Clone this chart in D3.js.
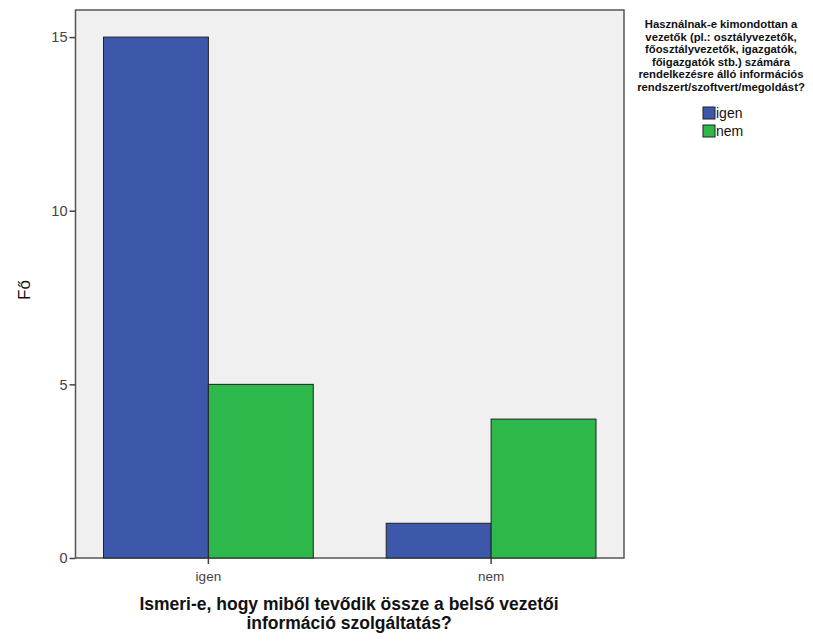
<!DOCTYPE html>
<html><head><meta charset="utf-8">
<script src="https://cdn.jsdelivr.net/npm/d3@7"></script>
<style>body{margin:0;background:#fff;} svg{display:block;font-family:Arial,"Liberation Sans",sans-serif;}</style>
</head><body>
<svg id="c" width="813" height="643"></svg>
<script>
const categories = ["igen", "nem"];
const seriesNames = ["igen", "nem"];
const seriesIgen = [15, 1];
const seriesNem = [5, 4];
const yTicks = [0, 5, 10, 15];
const legendTitle = ["Használnak-e kimondottan a", "vezetők (pl.: osztályvezetők,", "főosztályvezetők, igazgatók,", "főigazgatók stb.) számára", "rendelkezésre álló információs", "rendszert/szoftvert/megoldást?"];
const xTitle = ["Ismeri-e, hogy miből tevődik össze a belső vezetői", "információ szolgáltatás?"];
const yTitle = "Fő";
const colors = ["#3D57AB", "#2DB84B"];

const svg = d3.select("#c");
const L = 75.5, R = 624, T = 10, B = 558;
const x = d3.scaleBand().domain(categories).range([L, R]).paddingInner(0.258).paddingOuter(0.099);
const xs = d3.scaleBand().domain(seriesNames).range([0, x.bandwidth()]);
const y = d3.scaleLinear().domain([0, 15.78]).range([B, T]);

svg.append("rect").attr("x", L).attr("y", T).attr("width", R - L).attr("height", B - T)
  .attr("fill", "#F0F0F0").attr("stroke", "#555").attr("stroke-width", 1.5);

const data = categories.map((c, i) => ({cat: c, vals: [seriesIgen[i], seriesNem[i]]}));
const g = svg.append("g");
data.forEach(d => {
  d.vals.forEach((v, j) => {
    g.append("rect")
      .attr("x", x(d.cat) + xs(seriesNames[j]))
      .attr("y", y(v))
      .attr("width", xs.bandwidth())
      .attr("height", B - y(v))
      .attr("fill", colors[j]).attr("stroke", "#222").attr("stroke-width", 1);
  });
});

const yAxis = svg.append("g").attr("transform", `translate(${L},0)`)
  .call(d3.axisLeft(y).tickValues(yTicks).tickSize(6).tickSizeOuter(0).tickPadding(2));
yAxis.select(".domain").remove();
yAxis.selectAll("line").attr("stroke", "#444").attr("stroke-width", 1.5);
yAxis.selectAll("text").attr("font-size", 14.5).attr("fill", "#444").attr("font-family", "Arial,'Liberation Sans',sans-serif");

const xAxis = svg.append("g").attr("transform", `translate(0,${B})`)
  .call(d3.axisBottom(x).tickSize(6).tickSizeOuter(0).tickPadding(7));
xAxis.select(".domain").remove();
xAxis.selectAll("line").attr("stroke", "#444").attr("stroke-width", 1.5);
xAxis.selectAll("text").attr("font-size", 13.5).attr("fill", "#444").attr("font-family", "Arial,'Liberation Sans',sans-serif");

svg.append("text").attr("transform", "translate(30,290) rotate(-90)").attr("text-anchor", "middle")
  .attr("font-size", 17).attr("fill", "#111").text(yTitle);

xTitle.forEach((t, i) => {
  svg.append("text").attr("x", 349).attr("y", 610 + i * 18.5).attr("text-anchor", "middle")
    .attr("font-size", 17.5).attr("font-weight", "bold").attr("fill", "#111").text(t);
});

legendTitle.forEach((t, i) => {
  svg.append("text").attr("x", 721).attr("y", 28 + i * 12.6).attr("text-anchor", "middle")
    .attr("font-size", 11.3).attr("fill", "#111")
    .attr("font-weight", "bold").text(t);
});
seriesNames.forEach((s, i) => {
  svg.append("rect").attr("x", 703).attr("y", 107 + i * 18).attr("width", 12).attr("height", 12)
    .attr("fill", colors[i]).attr("stroke", "#222").attr("stroke-width", 1);
  svg.append("text").attr("x", 716).attr("y", 118 + i * 18).attr("font-size", 14).attr("fill", "#111").text(s);
});
</script>
</body></html>
